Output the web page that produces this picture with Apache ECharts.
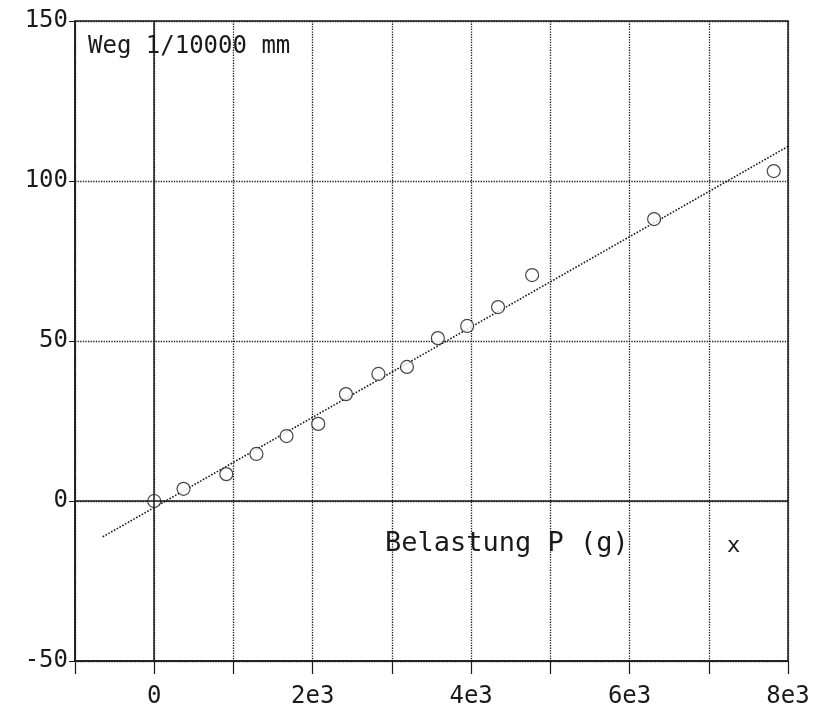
<!DOCTYPE html>
<html>
<head>
<meta charset="utf-8">
<script src="https://cdn.jsdelivr.net/npm/echarts@6/dist/echarts.min.js"></script>
<style>html,body{margin:0;padding:0;background:#fff}#c{width:826px;height:723px}</style>
</head>
<body>
<div id="c"></div>
<script>
// Data
var loadP = [0, 370, 910, 1290, 1670, 2070, 2420, 2830, 3190, 3580, 3950, 4340, 4770, 6310, 7820];
var weg   = [0, 3.8, 8.4, 14.7, 20.3, 24.1, 33.4, 39.7, 41.9, 50.9, 54.7, 60.6, 70.6, 88.1, 103.1];
var fitX = [-650, 8000];
var fitY = [-11.2, 110.8];
var yTicks = ['-50', '0', '50', '100', '150'];
var yTitle = 'Weg 1/10000 mm';
var xTitle = 'Belastung P (g)';
var xMark = 'x';

var ink = '#1a1a1a';
var mono = 'DejaVu Sans Mono';
var chart = echarts.init(document.getElementById('c'));
chart.setOption({
  backgroundColor: '#fff',
  animation: false,
  grid: {left: 75, right: 38, top: 21, bottom: 62, show: true, borderColor: ink, borderWidth: 1.5, backgroundColor: 'transparent'},
  xAxis: {
    type: 'value', min: -1000, max: 8000, interval: 1000,
    axisLine: {show: true, onZero: false, lineStyle: {color: ink, width: 1.5}},
    axisTick: {show: true, length: 13, lineStyle: {color: ink, width: 1.2}},
    axisLabel: {
      color: ink, fontFamily: mono, fontSize: 24, margin: 24,
      formatter: function (v) { if (v % 2000 !== 0) return ''; return v === 0 ? '0' : (v / 1000) + 'e3'; }
    },
    splitLine: {show: true, lineStyle: {color: ink, type: 'dotted', width: 1.3}}
  },
  yAxis: {
    type: 'value', min: -50, max: 150, interval: 50,
    axisLine: {show: true, onZero: false, lineStyle: {color: ink, width: 1.5}},
    axisTick: {show: true, length: 6, lineStyle: {color: ink}},
    axisLabel: {
      color: ink, fontFamily: mono, fontSize: 24, margin: 7,
      formatter: function (v) { return yTicks[Math.round((v + 50) / 50)]; }
    },
    splitLine: {show: true, lineStyle: {color: ink, type: 'dotted', width: 1.3}}
  },
  series: [
    {
      type: 'line',
      data: fitX.map(function (x, i) { return [x, fitY[i]]; }),
      showSymbol: false, symbol: 'none',
      lineStyle: {color: ink, width: 1.6, type: 'dotted'},
      markLine: {
        silent: true, symbol: 'none', label: {show: false},
        lineStyle: {color: ink, width: 1.5, type: 'solid'},
        data: [{xAxis: 0}, {yAxis: 0}]
      },
      z: 3
    },
    {
      type: 'scatter',
      data: loadP.map(function (x, i) { return [x, weg[i]]; }),
      symbol: 'circle', symbolSize: 13,
      itemStyle: {color: '#fff', borderColor: ink, borderWidth: 1.2},
      z: 4
    }
  ],
  graphic: [
    {type: 'text', left: 88, top: 35, style: {text: yTitle, font: '24px "DejaVu Sans Mono"', fill: ink}},
    {type: 'text', left: 385, top: 530, style: {text: xTitle, font: '27px "DejaVu Sans Mono"', fill: ink}},
    {type: 'text', left: 727, top: 535, style: {text: xMark, font: '22px "DejaVu Sans Mono"', fill: ink}}
  ]
});
</script>
</body>
</html>
